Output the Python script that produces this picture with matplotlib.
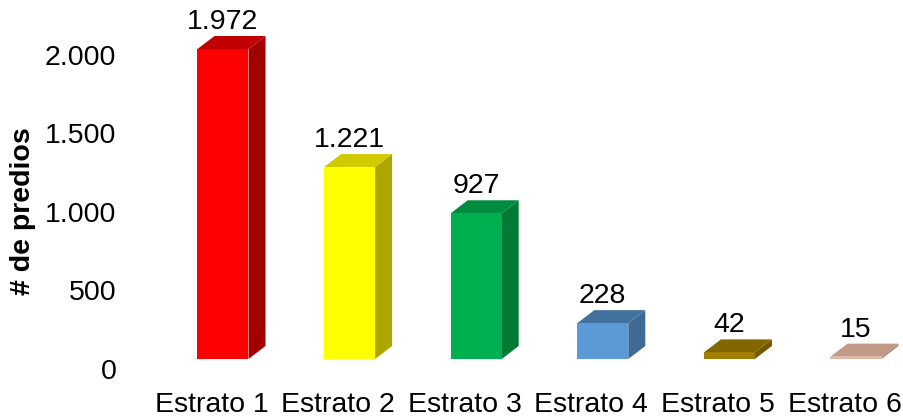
import numpy as np
import matplotlib
matplotlib.use("Agg")
import matplotlib.pyplot as plt
from matplotlib.patches import Polygon
from matplotlib.transforms import ScaledTranslation

plt.rcParams["font.family"] = ["Liberation Sans", "DejaVu Sans"]

# datos
categorias = ["Estrato 1", "Estrato 2", "Estrato 3", "Estrato 4", "Estrato 5", "Estrato 6"]
predios = [1972, 1221, 927, 228, 42, 15]
etiquetas = ["1.972", "1.221", "927", "228", "42", "15"]
yticks = [0, 500, 1000, 1500, 2000]
ytick_labels = ["0", "500", "1.000", "1.500", "2.000"]

# colores (frente, techo, lado)
c_frente = ["#FF0000", "#FFFF00", "#00B050", "#5B9BD5", "#A07D00", "#E8B49C"]
c_techo = ["#C00000", "#D2CA00", "#008C3E", "#41719C", "#846600", "#C09A85"]
c_lado = ["#A00000", "#AEA600", "#007A35", "#3E6B95", "#735800", "#B08B78"]

W, H = 904, 417
fig = plt.figure(figsize=(W / 100, H / 100), dpi=100)
ax_left, ax_right = 140, 904
ax_base = 359
ax = fig.add_axes([ax_left / W, (H - ax_base) / H, (ax_right - ax_left) / W, ax_base / H])

px_per_cat = 126.6
px_per_unit = 310 / 1972
x0 = 223
ax.set_xlim((ax_left - x0) / px_per_cat, (ax_right - x0) / px_per_cat)
ax.set_ylim(0, ax_base / px_per_unit)

ancho = 51 / px_per_cat
dx = 17 / px_per_cat
dy = 13 / px_per_unit

for i, v in enumerate(predios):
    l, r = i - ancho / 2, i + ancho / 2
    frente = Polygon([(l, 0), (r, 0), (r, v), (l, v)], closed=True,
                     facecolor=c_frente[i], edgecolor="none")
    techo = Polygon([(l, v), (r, v), (r + dx, v + dy), (l + dx, v + dy)], closed=True,
                    facecolor=c_techo[i], edgecolor="none")
    lado = Polygon([(r, 0), (r + dx, dy), (r + dx, v + dy), (r, v)], closed=True,
                   facecolor=c_lado[i], edgecolor="none")
    for p in (lado, techo, frente):
        ax.add_patch(p)
    ax.text(i, v + dy + 1 / px_per_unit, etiquetas[i], ha="center", va="bottom",
            fontsize=20.5, color="black")

ax.set_yticks(yticks)
ax.set_yticklabels(ytick_labels, fontsize=20.5)
ax.set_xticks(np.arange(len(categorias)) - 0.09)
ax.set_xticklabels(categorias, fontsize=20.5)
ax.tick_params(axis="both", length=0)
ax.tick_params(axis="y", pad=17)
ax.tick_params(axis="x", pad=24)

# etiquetas del eje y desplazadas hacia abajo (como en el gráfico 3D de Excel)
off = ScaledTranslation(0, -10 / 100, fig.dpi_scale_trans)
for lab in ax.get_yticklabels():
    lab.set_transform(lab.get_transform() + off)

for s in ax.spines.values():
    s.set_visible(False)

fig.text(23 / W, 1 - 211 / H, "# de predios", rotation=90, ha="center", va="center",
         fontsize=20.5, fontweight="bold")

fig.savefig("out.png", dpi=100)
